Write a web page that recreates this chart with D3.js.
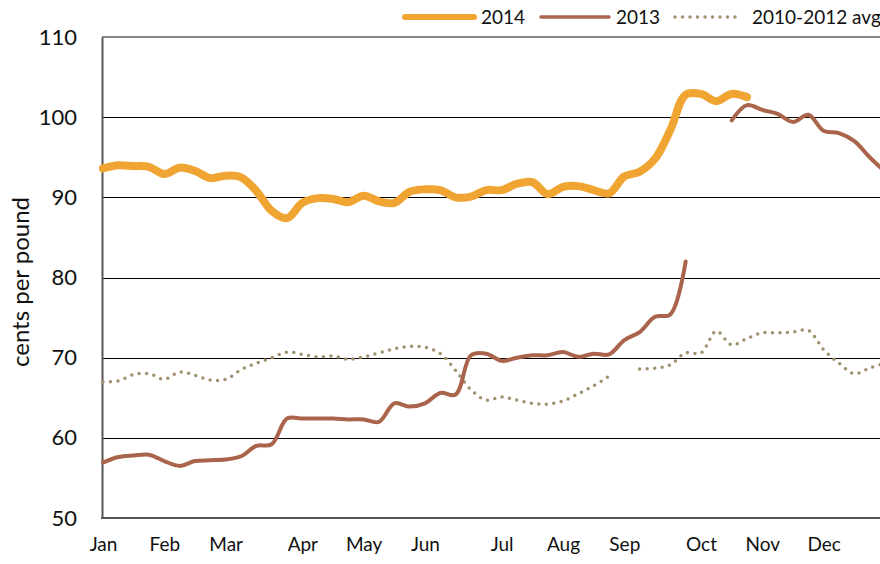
<!DOCTYPE html>
<html>
<head>
<meta charset="utf-8">
<script src="https://cdn.jsdelivr.net/npm/d3@7"></script>
<style>
  body { margin: 0; background: #fff; }
  text { font-family: Lato, "Open Sans", sans-serif; fill: #111; }
</style>
</head>
<body>
<div id="chart"></div>
<script>
// weekly prices, cents per pound (null = no data)
var weeks = d3.range(0, 52);
var monthWeeks = [0, 4, 8, 13, 17, 21, 26, 30, 34, 39, 43, 47];
var monthLabels = ["Jan", "Feb", "Mar", "Apr", "May", "Jun", "Jul", "Aug", "Sep", "Oct", "Nov", "Dec"];
var yTicks = [50, 60, 70, 80, 90, 100, 110];

var y2014 = [93.6, 94.0, 93.9, 93.8, 92.9, 93.7, 93.3, 92.4, 92.7, 92.5,
    90.8, 88.3, 87.4, 89.3, 89.9, 89.8, 89.4, 90.2, 89.5, 89.3,
    90.7, 91.0, 90.9, 90.0, 90.1, 90.9, 90.9, 91.7, 91.9, 90.4,
    91.3, 91.4, 90.9, 90.5, 92.6, 93.2, 94.8, 98.4, 102.8, 102.9,
    102.0, 102.9, 102.5];

var y2013 = [56.9, 57.6, 57.8, 57.9, 57.1, 56.5, 57.1, 57.2, 57.3, 57.7,
    59.0, 59.2, 62.4, 62.4, 62.4, 62.4, 62.3, 62.3, 62.0, 64.3,
    63.9, 64.3, 65.6, 65.4, 70.3, 70.5, 69.6, 70.0, 70.3, 70.3,
    70.7, 70.1, 70.5, 70.4, 72.2, 73.2, 75.1, 75.4, 82.0, null,
    null, 99.6, 101.5, 100.9, 100.4, 99.4, 100.3, 98.3, 98.0, 97.0,
    95.0, 93.2];

var yAvg = [67.0, 67.1, 67.9, 68.0, 67.3, 68.2, 67.8, 67.2, 67.3, 68.5,
    69.3, 70.0, 70.7, 70.4, 70.1, 70.2, 69.8, 70.1, 70.6, 71.1,
    71.4, 71.3, 70.5, 68.4, 66.0, 64.7, 65.1, 64.7, 64.3, 64.2,
    64.6, 65.5, 66.5, 67.7, null, 68.6, 68.7, 69.1, 70.6, 70.6,
    73.3, 71.6, 72.4, 73.1, 73.1, 73.2, 73.4, 71.0, 69.3, 68.0,
    68.7, 69.3];

var width = 880,
    height = 564;

var svg = d3.select("#chart").append("svg")
    .attr("width", width)
    .attr("height", height);

var xScale = d3.scaleLinear()
    .domain([0, 51])
    .range([103, 885]);

var yScale = d3.scaleLinear()
    .domain([50, 110])
    .range([518, 37]);

// gridlines
svg.append("g")
    .selectAll("line")
    .data(yTicks.slice(1, -1))
    .join("line")
    .attr("x1", 102)
    .attr("x2", width)
    .attr("y1", function (d) { return Math.round(yScale(d)) + 0.5; })
    .attr("y2", function (d) { return Math.round(yScale(d)) + 0.5; })
    .attr("stroke", "#000")
    .attr("stroke-width", 1);

// top border
svg.append("line")
    .attr("x1", 102).attr("x2", width)
    .attr("y1", yScale(110)).attr("y2", yScale(110))
    .attr("stroke", "#888")
    .attr("stroke-width", 2);

// y axis
var yAxis = svg.append("g")
    .attr("transform", "translate(102,0)")
    .call(d3.axisLeft(yScale).tickValues(yTicks).tickSize(0).tickPadding(25));
yAxis.select(".domain").attr("stroke", "#555").attr("stroke-width", 2);
yAxis.selectAll("text")
    .style("font-family", "Lato, sans-serif")
    .style("font-size", "22px")
    .attr("fill", "#111");

// x axis
var xAxis = svg.append("g")
    .attr("transform", "translate(0," + yScale(50) + ")")
    .call(d3.axisBottom(xScale)
        .tickValues(monthWeeks)
        .tickFormat(function (d, i) { return monthLabels[i]; })
        .tickSize(0)
        .tickPadding(20));
xAxis.select(".domain")
    .attr("d", "M101," + 0 + "H" + width)
    .attr("stroke", "#555")
    .attr("stroke-width", 2);
xAxis.selectAll("text")
    .style("font-family", "Lato, sans-serif")
    .style("font-size", "19px")
    .attr("fill", "#111");

// y axis label
svg.append("text")
    .attr("transform", "translate(29," + 282 + ") rotate(-90)")
    .attr("text-anchor", "middle")
    .style("font-size", "24px")
    .text("cents per pound");

var line = d3.line()
    .defined(function (d) { return d != null; })
    .x(function (d, i) { return xScale(weeks[i]); })
    .y(function (d) { return yScale(d); })
    .curve(d3.curveCatmullRom);

// lines
svg.append("path")
    .attr("d", line(yAvg))
    .attr("fill", "none")
    .attr("stroke", "#A0916E")
    .attr("stroke-width", 3.5)
    .attr("stroke-linecap", "round")
    .attr("stroke-dasharray", "0,7.5");

svg.append("path")
    .attr("d", line(y2013))
    .attr("fill", "none")
    .attr("stroke", "#AA644B")
    .attr("stroke-width", 4)
    .attr("stroke-linecap", "round");

svg.append("path")
    .attr("d", line(y2014))
    .attr("fill", "none")
    .attr("stroke", "#F0A431")
    .attr("stroke-width", 8)
    .attr("stroke-linecap", "round");

// legend
var legend = [
    { name: "2014", x1: 405, x2: 474, tx: 481, color: "#F0A431", w: 6, dash: null },
    { name: "2013", x1: 541, x2: 609, tx: 616, color: "#AA644B", w: 3.5, dash: null },
    { name: "2010-2012 avg", x1: 675, x2: 740, tx: 752, color: "#A0916E", w: 3.5, dash: "0,7.5" }
];
legend.forEach(function (l) {
    svg.append("line")
        .attr("x1", l.x1).attr("x2", l.x2)
        .attr("y1", 17).attr("y2", 17)
        .attr("stroke", l.color)
        .attr("stroke-width", l.w)
        .attr("stroke-linecap", "round")
        .attr("stroke-dasharray", l.dash);
    svg.append("text")
        .attr("x", l.tx)
        .attr("y", 24)
        .style("font-size", "19px")
        .text(l.name);
});
</script>
</body>
</html>
